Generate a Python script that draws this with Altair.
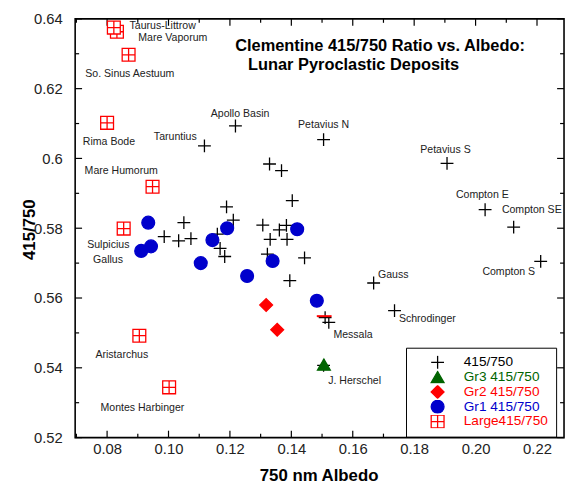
import altair as alt
import pandas as pd

FONT = "Liberation Sans"

# ---------------- data ----------------
series_names = ["415/750", "Gr3 415/750", "Gr2 415/750", "Gr1 415/750", "Large415/750"]

cross_x = [0.1218, 0.1117, 0.1505, 0.1329, 0.1368, 0.1403, 0.1189, 0.1211, 0.1050, 0.0986,
           0.1033, 0.1073, 0.1159, 0.1168, 0.1183, 0.1307, 0.1361, 0.1384, 0.1331, 0.1386,
           0.1322, 0.1443, 0.1395, 0.1510, 0.1522, 0.1505, 0.1907, 0.2031, 0.2124, 0.2212,
           0.1668, 0.1736]
cross_y = [0.6093, 0.6036, 0.6054, 0.5984, 0.5965, 0.5879, 0.5861, 0.5823, 0.5816, 0.5776,
           0.5764, 0.5770, 0.5783, 0.5742, 0.5719, 0.5809, 0.5795, 0.5808, 0.5768, 0.5768,
           0.5726, 0.5715, 0.5650, 0.5544, 0.5530, 0.5407, 0.5986, 0.5853, 0.5803, 0.5705,
           0.5643, 0.5564]

gr3_x = [0.1506]
gr3_y = [0.5409]

gr2_x = [0.1318, 0.1354]
gr2_y = [0.5580, 0.5509]

gr1_x = [0.0934, 0.0943, 0.0911, 0.1191, 0.1143, 0.1105, 0.1256, 0.1339, 0.1419, 0.1483]
gr1_y = [0.5816, 0.5748, 0.5735, 0.5800, 0.5766, 0.5700, 0.5663, 0.5706, 0.5797, 0.5592]

large_x = [0.0832, 0.0822, 0.0870, 0.0800, 0.0948, 0.0854, 0.0905, 0.1002]
large_y = [0.6363, 0.6375, 0.6297, 0.6102, 0.5919, 0.5799, 0.5492, 0.5344]

dash_x = [0.1507]
dash_y = [0.5548]

label_text = ["Taurus-Littrow", "Mare Vaporum", "So. Sinus Aestuum", "Apollo Basin", "Rima Bode",
              "Taruntius", "Petavius N", "Mare Humorum", "Petavius S", "Compton E",
              "Compton SE", "Compton S", "Gauss", "Schrodinger", "Messala", "J. Herschel",
              "Sulpicius", "Gallus", "Aristarchus", "Montes Harbinger"]
label_x = [0.0981, 0.1014, 0.0874, 0.1233, 0.0806, 0.1022, 0.1505, 0.0846, 0.1902, 0.2022,
           0.2183, 0.2108, 0.1732, 0.1843, 0.1601, 0.1606, 0.0804, 0.0803, 0.0848, 0.0915]
label_y = [0.6379, 0.6346, 0.6243, 0.6127, 0.6047, 0.6061, 0.6096, 0.5965, 0.6025, 0.5894,
           0.5851, 0.5674, 0.5667, 0.5539, 0.5493, 0.5363, 0.5751, 0.5710, 0.5438, 0.5284]

x_major = [0.08, 0.10, 0.12, 0.14, 0.16, 0.18, 0.20, 0.22]
x_minor = [0.07, 0.09, 0.11, 0.13, 0.15, 0.17, 0.19, 0.21]
y_major = [0.52, 0.54, 0.56, 0.58, 0.60, 0.62, 0.64]
y_minor = [0.53, 0.55, 0.57, 0.59, 0.61, 0.63]

title_lines = ["Clementine 415/750 Ratio vs. Albedo:", "Lunar Pyroclastic Deposits"]

# ---------------- styles ----------------
series_stroke = ["#000000", "#006400", "#ff0000", "#0000cc", "#ff0000"]
series_fill = ["transparent", "#006400", "#ff0000", "#0000cc", "#ffffff"]
series_shape = ["M-1,0H1M0,-1V1", "triangle-up", "diamond", "circle",
                "M-1,-1H1V1H-1ZM0,-1V1M-1,0H1"]

W, H = 495, 424

# ---------------- tables ----------------
rows = []
for name, xs, ys in zip(series_names,
                        [cross_x, gr3_x, gr2_x, gr1_x, large_x],
                        [cross_y, gr3_y, gr2_y, gr1_y, large_y]):
    for a, b in zip(xs, ys):
        rows.append({"x": a, "y": b, "series": name})
pts = pd.DataFrame(rows)
labels_df = pd.DataFrame({"x": label_x, "y": label_y, "label": label_text})
dash_df = pd.DataFrame({"x": dash_x, "y": dash_y})

x_scale = alt.Scale(domain=[0.0696, 0.2288], nice=False, zero=False)
y_scale = alt.Scale(domain=[0.52, 0.64], nice=False, zero=False)

x_axis = alt.Axis(values=x_major, format=".2f", ticks=False, tickSize=0, domain=False, grid=False,
                  labelFont=FONT, labelFontSize=15, labelColor="#222222", labelPadding=4,
                  title="750 nm Albedo", titleFont=FONT, titleFontSize=17, titleFontWeight="bold",
                  titleColor="#000000", titleX=W / 2 - 1, titleY=38, titleBaseline="middle",
                  titleAlign="center")
y_axis = alt.Axis(values=y_major, format=".2~f", ticks=False, tickSize=0, domain=False, grid=False,
                  labelFont=FONT, labelFontSize=15, labelColor="#222222", labelPadding=13,
                  title="415/750", titleFont=FONT, titleFontSize=17, titleFontWeight="bold",
                  titleColor="#000000", titleAngle=270, titleX=-46, titleY=213,
                  titleBaseline="middle", titleAlign="center")

X = alt.X("x:Q", scale=x_scale, axis=x_axis)
Y = alt.Y("y:Q", scale=y_scale, axis=y_axis)

label_color_expr = ("datum.label == '415/750' ? '#000000' : "
                    "datum.label == 'Gr3 415/750' ? '#006400' : "
                    "datum.label == 'Gr1 415/750' ? '#0000cc' : '#ff0000'")

legend = alt.Legend(title=None, orient="none", legendX=335, legendY=333, padding=8,
                    strokeColor="black", fillColor="white",
                    labelFont=FONT, labelFontSize=13.8, labelColor={"expr": label_color_expr},
                    symbolSize=169, symbolStrokeWidth=1.3, symbolOffset=16.5, labelOffset=19,
                    clipHeight=13.5, rowPadding=0)

points = alt.Chart(pts).mark_point(filled=False, opacity=1, strokeWidth=1.3, size=169).encode(
    x=X, y=Y,
    shape=alt.Shape("series:N", scale=alt.Scale(domain=series_names, range=series_shape), legend=legend),
    stroke=alt.Stroke("series:N", scale=alt.Scale(domain=series_names, range=series_stroke), legend=legend),
    fill=alt.Fill("series:N", scale=alt.Scale(domain=series_names, range=series_fill), legend=legend),
)

dash = alt.Chart(dash_df).mark_point(shape="M-1,0H1", size=225, strokeWidth=2, opacity=1,
                                     filled=False, stroke="#ff0000").encode(x=X, y=Y)

texts = alt.Chart(labels_df).mark_text(font=FONT, fontSize=10.7, color="#222222",
                                       align="center", baseline="middle").encode(
    x=X, y=Y, text="label:N")

layers = []
for vals, side, length in [(x_major, "bottom", 7), (x_minor, "bottom", 4),
                           (x_major, "top", 7), (x_minor, "top", 4)]:
    df = pd.DataFrame({"x": vals})
    if side == "bottom":
        enc = dict(y=alt.value(H), y2=alt.value(H - length))
    else:
        enc = dict(y=alt.value(0), y2=alt.value(length))
    layers.append(alt.Chart(df).mark_rule(color="black", strokeWidth=1.2).encode(x=X, **enc))
for vals, side, length in [(y_major, "left", 7), (y_minor, "left", 4),
                           (y_major, "right", 7), (y_minor, "right", 4)]:
    df = pd.DataFrame({"y": vals})
    if side == "left":
        enc = dict(x=alt.value(0), x2=alt.value(length))
    else:
        enc = dict(x=alt.value(W), x2=alt.value(W - length))
    layers.append(alt.Chart(df).mark_rule(color="black", strokeWidth=1.2).encode(y=Y, **enc))

title_df1 = pd.DataFrame({"t": [title_lines[0]]})
title_df2 = pd.DataFrame({"t": [title_lines[1]]})
t1 = alt.Chart(title_df1).mark_text(font=FONT, fontSize=16.6, fontWeight="bold", color="#000000",
                                    align="left", baseline="middle").encode(
    x=alt.value(162), y=alt.value(28), text="t:N")
t2 = alt.Chart(title_df2).mark_text(font=FONT, fontSize=16.6, fontWeight="bold", color="#000000",
                                    align="left", baseline="middle").encode(
    x=alt.value(175), y=alt.value(46.5), text="t:N")

chart = alt.layer(*layers, points, dash, texts, t1, t2).properties(
    width=W, height=H,
    autosize=alt.AutoSizeParams(type="none"),
    padding={"left": 68, "top": 8, "right": 2, "bottom": 44},
    background="white",
).configure_view(stroke="black", strokeWidth=1.6).configure_legend(strokeWidth=1)

chart.save("out.html", embed_options={"renderer": "svg", "actions": False})
